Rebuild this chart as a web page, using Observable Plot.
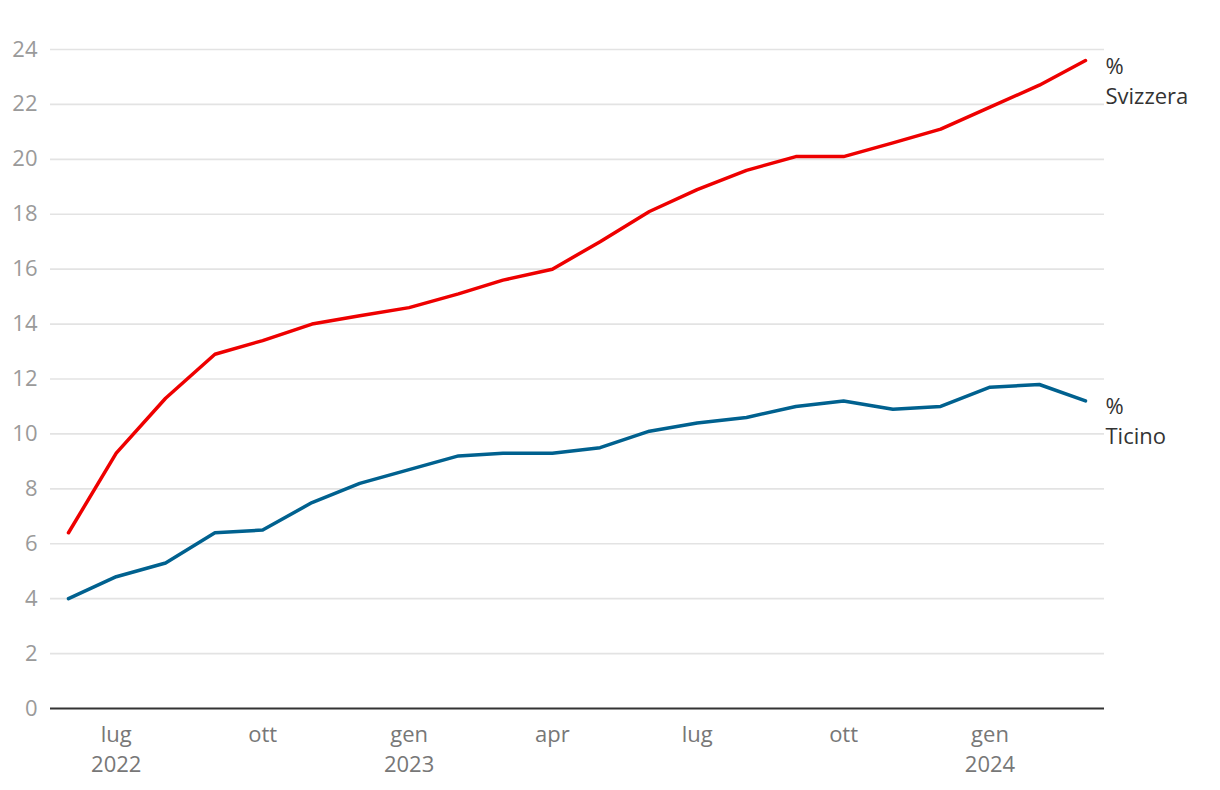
<!DOCTYPE html>
<html>
<head>
<meta charset="utf-8">
<script src="https://cdn.jsdelivr.net/npm/d3@7"></script>
<script src="https://cdn.jsdelivr.net/npm/@observablehq/plot@0.6"></script>
<style>
  html, body { margin: 0; padding: 0; background: #fff; }
  svg { display: block; }
</style>
</head>
<body>
<div id="chart"></div>
<script>
const months = [
  "2022-06","2022-07","2022-08","2022-09","2022-10","2022-11","2022-12",
  "2023-01","2023-02","2023-03","2023-04","2023-05","2023-06","2023-07",
  "2023-08","2023-09","2023-10","2023-11","2023-12",
  "2024-01","2024-02","2024-03"
];
const svizzera = [6.4, 9.3, 11.3, 12.9, 13.4, 14.0, 14.3, 14.6, 15.1, 15.6, 16.0, 17.0, 18.1, 18.9, 19.6, 20.1, 20.1, 20.6, 21.1, 21.9, 22.7, 23.6];
const ticino   = [4.0, 4.8, 5.3, 6.4, 6.5, 7.5, 8.2, 8.7, 9.2, 9.3, 9.3, 9.5, 10.1, 10.4, 10.6, 11.0, 11.2, 10.9, 11.0, 11.7, 11.8, 11.2];
const seriesNames = ["Svizzera", "Ticino"];
const seriesLabels = ["%\nSvizzera", "%\nTicino"];
const seriesColors = ["#ee0000", "#00618f"];
const xTickDates = ["2022-07","2022-10","2023-01","2023-04","2023-07","2023-10","2024-01"];
const xTickLabels = ["lug\n2022","ott","gen\n2023","apr","lug","ott","gen\n2024"];
const yTicks = [0, 2, 4, 6, 8, 10, 12, 14, 16, 18, 20, 22, 24];

const parse = s => new Date(s + "-01T00:00:00Z");
const data = [];
months.forEach((m, i) => {
  data.push({date: parse(m), value: svizzera[i], series: seriesNames[0]});
  data.push({date: parse(m), value: ticino[i], series: seriesNames[1]});
});
const lastIdx = months.length - 1;
const lastPoints = [
  {date: parse(months[lastIdx]), value: svizzera[lastIdx], label: seriesLabels[0]},
  {date: parse(months[lastIdx]), value: ticino[lastIdx], label: seriesLabels[1]}
];
const tickDates = xTickDates.map(parse);
const labelMap = new Map(tickDates.map((d, i) => [+d, xTickLabels[i]]));

const chart = Plot.plot({
  width: 1220,
  height: 790,
  marginLeft: 68,
  marginRight: 135,
  marginTop: 49,
  marginBottom: 82,
  style: {fontFamily: "'Open Sans', sans-serif", fontSize: "22px", background: "#fff"},
  x: {type: "utc", domain: [parse(months[0]), parse(months[lastIdx])]},
  y: {domain: [0, 24]},
  color: {domain: seriesNames, range: seriesColors},
  marks: [
    Plot.ruleY(yTicks.filter(d => d !== 0), {stroke: "#e3e3e3", strokeWidth: 1.6, insetLeft: -18, insetRight: -19}),
    Plot.axisY(yTicks, {tickSize: 0, tickPadding: 31, fill: "#9a9a9a", fontSize: 22, label: null}),
    Plot.axisX(tickDates, {tickSize: 0, tickPadding: 12, fill: "#777", fontSize: 22, lineHeight: 1.36, lineAnchor: "top", tickFormat: d => labelMap.get(+d), label: null}),
    Plot.ruleY([0], {stroke: "#333", strokeWidth: 2.2, insetLeft: -18, insetRight: -19}),
    Plot.line(data, {x: "date", y: "value", z: "series", stroke: "series", strokeWidth: 3.5, strokeLinejoin: "round", strokeLinecap: "round"}),
    Plot.text(lastPoints, {x: "date", y: "value", text: "label", textAnchor: "start", lineAnchor: "top", dx: 20, dy: -8, lineHeight: 1.36, fill: "#333", fontSize: 22})
  ]
});
document.getElementById("chart").appendChild(chart);
</script>
</body>
</html>
